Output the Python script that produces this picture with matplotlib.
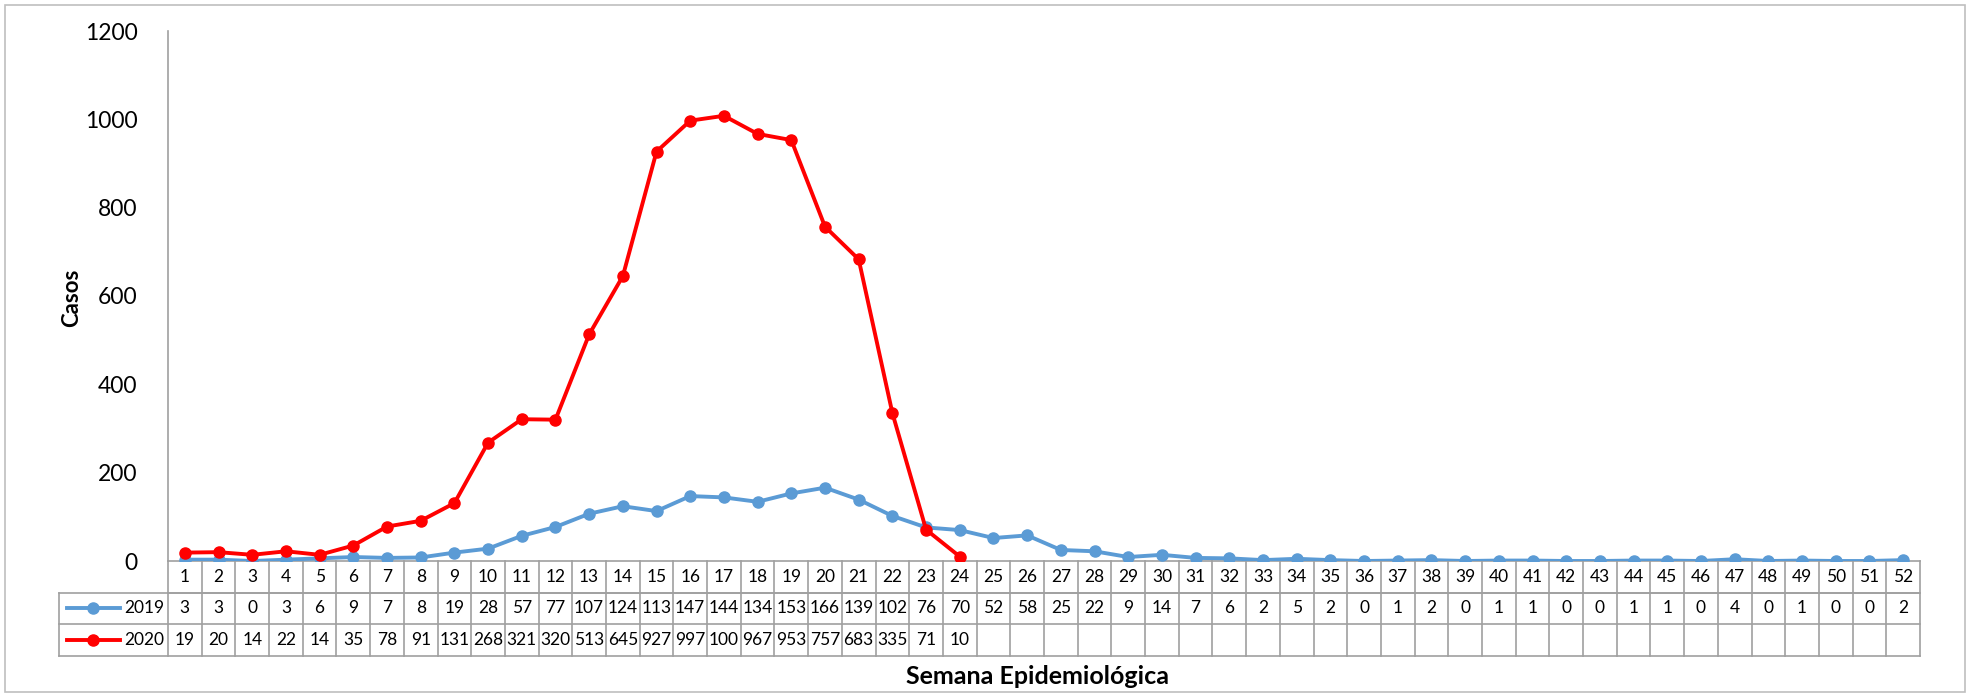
import matplotlib
matplotlib.use("Agg")
import matplotlib.pyplot as plt
from matplotlib.patches import Rectangle
from matplotlib.lines import Line2D
import matplotlib.transforms as mtransforms

plt.rcParams['font.family'] = ['Lato', 'DejaVu Sans']

weeks = list(range(1, 53))
cases_2019 = [3, 3, 0, 3, 6, 9, 7, 8, 19, 28,
              57, 77, 107, 124, 113, 147, 144, 134, 153, 166,
              139, 102, 76, 70, 52, 58, 25, 22, 9, 14,
              7, 6, 2, 5, 2, 0, 1, 2, 0, 1,
              1, 0, 0, 1, 1, 0, 4, 0, 1, 0, 0, 2]
cases_2020 = [19, 20, 14, 22, 14, 35, 78, 91, 131, 268,
              321, 320, 513, 645, 927, 997, 1008, 967, 953, 757,
              683, 335, 71, 10]
series_labels = ["2019", "2020"]
yticks = [0, 200, 400, 600, 800, 1000, 1200]

c19 = "#5B9BD5"
c20 = "#FF0000"
grid_c = "#A0A0A0"

W, H = 1971, 697
fig = plt.figure(figsize=(W / 100, H / 100), dpi=100)
ax = fig.add_axes([168 / W, 1 - 561 / H, (1920 - 168) / W, (561 - 31) / H])

ax.plot(weeks, cases_2019, color=c19, lw=2.8, marker='o', ms=8, zorder=3)
ax.plot(weeks[:len(cases_2020)], cases_2020, color=c20, lw=2.8, marker='o', ms=8, zorder=4)

ax.set_xlim(0.5, 52.5)
ax.set_ylim(0, 1200)
ax.set_yticks(yticks)
ax.set_yticklabels([str(v) for v in yticks], fontsize=16.5)
ax.tick_params(axis='y', length=0, pad=22)
ax.set_xticks([])
for s in ['top', 'right']:
    ax.spines[s].set_visible(False)
for s in ['left', 'bottom']:
    ax.spines[s].set_color(grid_c)
    ax.spines[s].set_linewidth(1.2)

fig.text(72 / W, 1 - 298 / H, "Casos", rotation=90, ha='center', va='center',
         fontsize=16, fontweight='bold')

# Data table below the axis
trans = mtransforms.blended_transform_factory(ax.transData, ax.transAxes)
axh = (561 - 31)
rh = 31.5 / axh
unit = (1920 - 168) / 52
def px2x(px):
    return (px - 168) / unit + 0.5
legend_left = px2x(59)
rows_y = [0, -rh, -2 * rh, -3 * rh]
lkw = dict(color=grid_c, lw=1.2, transform=trans, clip_on=False)

ax.add_line(Line2D([0.5, 52.5], [rows_y[1]] * 2, **lkw))
ax.add_line(Line2D([legend_left, 52.5], [rows_y[1]] * 2, **lkw))
ax.add_line(Line2D([legend_left, 52.5], [rows_y[2]] * 2, **lkw))
ax.add_line(Line2D([legend_left, 52.5], [rows_y[3]] * 2, **lkw))
for k in range(53):
    xx = k + 0.5
    ax.add_line(Line2D([xx, xx], [rows_y[0], rows_y[3]], **lkw))
ax.add_line(Line2D([legend_left, legend_left], [rows_y[1], rows_y[3]], **lkw))

tkw = dict(transform=trans, ha='center', va='center', fontsize=12.5, clip_on=False)
for i, w in enumerate(weeks):
    ax.text(w, -0.5 * rh, str(w), **tkw)
    ax.text(w, -1.5 * rh, str(cases_2019[i]), **tkw)
    if i < len(cases_2020):
        s = str(cases_2020[i])
        ax.text(w, -2.5 * rh, s[:3], **tkw)

for j, (lab, col) in enumerate(zip(series_labels, [c19, c20])):
    yy = -(1.5 + j) * rh
    ax.add_line(Line2D([px2x(67), px2x(120)], [yy, yy], color=col, lw=2.8,
                       transform=trans, clip_on=False))
    ax.add_line(Line2D([px2x(93)], [yy], color=col, marker='o', ms=8,
                       transform=trans, clip_on=False))
    ax.text(px2x(124), yy, lab, transform=trans, ha='left', va='center',
            fontsize=12.5, clip_on=False)

fig.text(1037 / W, 1 - 677 / H, "Semana Epidemiológica", ha='center', va='center',
         fontsize=18, fontweight='bold')

fig.patches.append(Rectangle((5 / W, 5 / H), (1965 - 5) / W, (692 - 5) / H,
                             transform=fig.transFigure, fill=False,
                             edgecolor="#BFBFBF", lw=1.2))

fig.savefig("out.png", dpi=100)
